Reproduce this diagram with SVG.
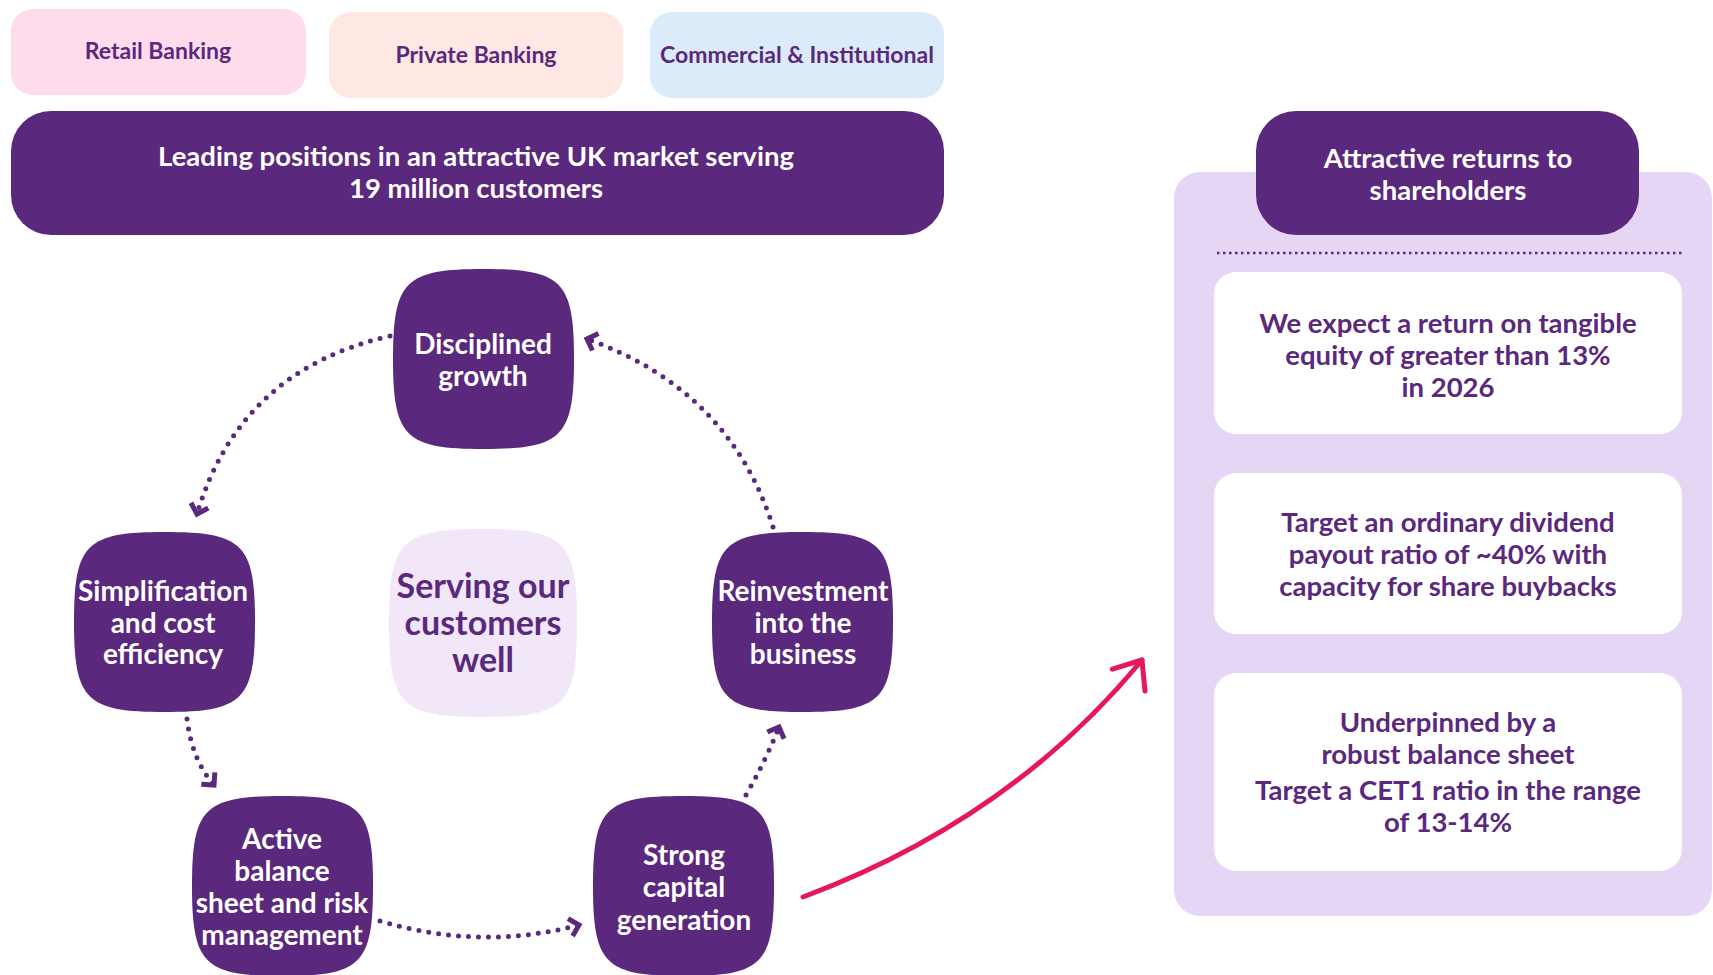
<svg xmlns="http://www.w3.org/2000/svg" xmlns:xlink="http://www.w3.org/1999/xlink" width="1713" height="975" viewBox="0 0 1713 975">
<style>
text{font-family:Lato,"Open Sans","Liberation Sans",sans-serif;font-weight:700;text-anchor:middle}
.w{fill:#ffffff}
.p{fill:#5a287d}
.node{fill:#5a287d}
.tab{font-size:23px}
.big{font-size:27.5px}
.nt{font-size:28px}
.bt{font-size:27.5px}
.sv{font-size:34px}
.dot{fill:none;stroke:#5a287d;stroke-width:5;stroke-linecap:round;stroke-dasharray:0 10}
</style>
<defs>
<path id="sq" d="M0,90 C0,12 12,0 90.5,0 C169,0 181,12 181,90 C181,168 169,180 90.5,180 C12,180 0,168 0,90 Z"/>
<marker id="chev" viewBox="-14 -14 28 28" refX="0" refY="0" markerWidth="28" markerHeight="28" markerUnits="userSpaceOnUse" orient="auto">
<path d="M-9,-9 L0,0 L-9,9" fill="none" stroke="#5a287d" stroke-width="5" stroke-linecap="butt"/>
</marker>
<marker id="pchev" viewBox="-30 -30 60 60" refX="0" refY="0" markerWidth="60" markerHeight="60" markerUnits="userSpaceOnUse" orient="auto">
<path d="M-26,-17 L0,0 L-22,22" fill="none" stroke="#e5175f" stroke-width="5" stroke-linecap="round" stroke-linejoin="round"/>
</marker>
</defs>
<rect width="1713" height="975" fill="#ffffff"/>

<g id="tab-retail">
<rect x="11" y="9" width="295" height="86" rx="22" fill="#ffdcec"/>
<text class="tab p" x="158" y="59">Retail Banking</text>
</g>
<g id="tab-private">
<rect x="329" y="12" width="294" height="86" rx="22" fill="#ffe8e4"/>
<text class="tab p" x="476" y="63">Private Banking</text>
</g>
<g id="tab-commercial">
<rect x="650" y="12" width="294" height="86" rx="22" fill="#dbebf9"/>
<text class="tab p" x="797" y="63">Commercial &amp; Institutional</text>
</g>
<g id="leading">
<rect x="11" y="111" width="933" height="124" rx="40" fill="#5a287d"/>
<text class="big w" x="476" y="166">Leading positions in an attractive UK market serving</text>
<text class="big w" x="476" y="198">19 million customers</text>
</g>

<g id="returns-panel">
<rect x="1174" y="172" width="538" height="744" rx="26" fill="#e5d6f6"/>
<line x1="1217" y1="253" x2="1683" y2="253" stroke="#5a287d" stroke-width="2.5" stroke-dasharray="2.5 3.5"/>
</g>
<g id="returns-title">
<rect x="1256" y="111" width="383" height="124" rx="40" fill="#5a287d"/>
<text class="big w" x="1448" y="168">Attractive returns to</text>
<text class="big w" x="1448" y="200">shareholders</text>
</g>
<g id="box-rote">
<rect x="1214" y="272" width="468" height="162" rx="22" fill="#ffffff"/>
<text class="bt p" x="1448" y="333">We expect a return on tangible</text>
<text class="bt p" x="1448" y="365">equity of greater than 13%</text>
<text class="bt p" x="1448" y="397">in 2026</text>
</g>
<g id="box-dividend">
<rect x="1214" y="473" width="468" height="161" rx="22" fill="#ffffff"/>
<text class="bt p" x="1448" y="532">Target an ordinary dividend</text>
<text class="bt p" x="1448" y="564">payout ratio of ~40% with</text>
<text class="bt p" x="1448" y="596">capacity for share buybacks</text>
</g>
<g id="box-cet1">
<rect x="1214" y="673" width="468" height="198" rx="22" fill="#ffffff"/>
<text class="bt p" x="1448" y="732">Underpinned by a</text>
<text class="bt p" x="1448" y="764">robust balance sheet</text>
<text class="bt p" x="1448" y="800">Target a CET1 ratio in the range</text>
<text class="bt p" x="1448" y="832">of 13-14%</text>
</g>

<g id="connectors">
<path class="dot" d="M390,336 Q240,370 197,514" marker-end="url(#chev)"/>
<path class="dot" d="M187,719 Q192,760 214,785" marker-end="url(#chev)"/>
<path class="dot" d="M380,921 Q481,951 579,925" marker-end="url(#chev)"/>
<path class="dot" d="M746,795 Q766,760 779,727" marker-end="url(#chev)"/>
<path class="dot" d="M773,527 Q730,390 587,339" marker-end="url(#chev)"/>
<path d="M803,897 Q1010,820 1142,660" fill="none" stroke="#e5175f" stroke-width="5" stroke-linecap="round" marker-end="url(#pchev)"/>
</g>

<g id="node-disciplined">
<use href="#sq" x="393" y="269" class="node"/>
<text class="nt w" x="483" y="354">Disciplined</text>
<text class="nt w" x="483" y="386">growth</text>
</g>
<g id="node-simplification">
<use href="#sq" x="74" y="532" class="node"/>
<text class="nt w" x="163" y="601">Simplification</text>
<text class="nt w" x="163" y="633">and cost</text>
<text class="nt w" x="163" y="664">efficiency</text>
</g>
<g id="node-serving">
<path d="M389,623 C389,541 401,529 483,529 C565,529 577,541 577,623 C577,705 565,717 483,717 C401,717 389,705 389,623 Z" fill="#f1e7f9"/>
<text class="sv p" x="483" y="598">Serving our</text>
<text class="sv p" x="483" y="635">customers</text>
<text class="sv p" x="483" y="672">well</text>
</g>
<g id="node-reinvestment">
<use href="#sq" x="712" y="532" class="node"/>
<text class="nt w" x="803" y="601">Reinvestment</text>
<text class="nt w" x="803" y="633">into the</text>
<text class="nt w" x="803" y="664">business</text>
</g>
<g id="node-active">
<use href="#sq" x="192" y="796" class="node"/>
<text class="nt w" x="282" y="849">Active</text>
<text class="nt w" x="282" y="881">balance</text>
<text class="nt w" x="282" y="913">sheet and risk</text>
<text class="nt w" x="282" y="945">management</text>
</g>
<g id="node-strong">
<use href="#sq" x="593" y="796" class="node"/>
<text class="nt w" x="684" y="865">Strong</text>
<text class="nt w" x="684" y="897">capital</text>
<text class="nt w" x="684" y="930">generation</text>
</g>
</svg>
